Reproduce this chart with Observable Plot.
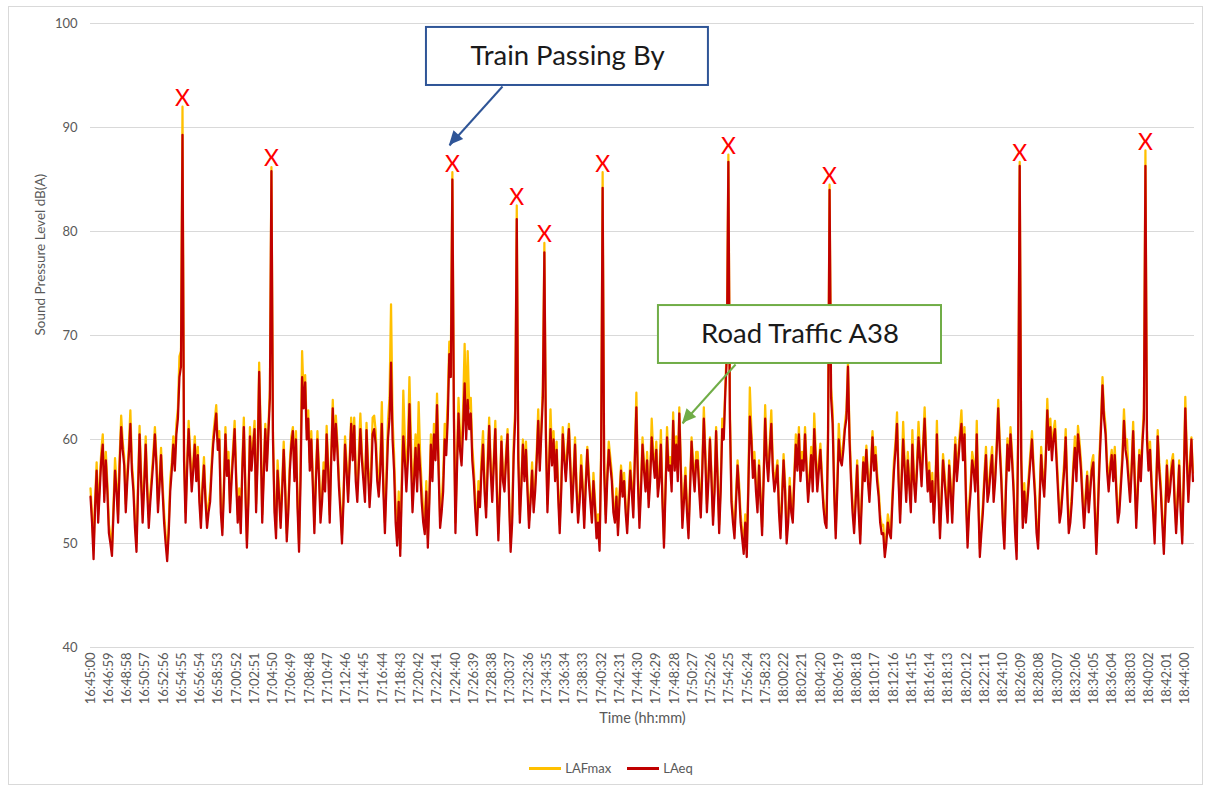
<!DOCTYPE html>
<html><head><meta charset="utf-8">
<script src="https://cdn.jsdelivr.net/npm/d3@7"></script>
<script src="https://cdn.jsdelivr.net/npm/@observablehq/plot@0.6"></script>
<style>
body{margin:0;background:#fff;font-family:Lato,"Liberation Sans",sans-serif;}
#wrap{position:relative;width:1208px;height:789px;overflow:hidden;}
#border{position:absolute;left:8px;top:6px;width:1195px;height:779px;border:1px solid #d9d9d9;box-sizing:border-box;pointer-events:none;}
#legend{display:flex;justify-content:center;align-items:center;height:36px;padding-left:14px;font-size:13px;color:#595959;}
#legend .item{display:flex;align-items:center;margin:0 8px;}
#legend .sw{display:inline-block;width:32px;height:3px;margin-right:4px;}
</style></head><body>
<div id="wrap"><div id="chart"></div><div id="legend"></div><div id="border"></div></div>
<script>
// ---------- data ----------
const seriesNames = ["LAFmax", "LAeq"];
const seriesColors = ["#FFC000", "#C00000"];
const startTime = "16:45:00";
const endTime = "18:45:00";
const stepSeconds = 10;
const yTicks = [40, 50, 60, 70, 80, 90, 100];
const tickLabels = ["16:45:00","16:46:59","16:48:58","16:50:57","16:52:56","16:54:55","16:56:54","16:58:53","17:00:52","17:02:51","17:04:50","17:06:49","17:08:48","17:10:47","17:12:46","17:14:45","17:16:44","17:18:43","17:20:42","17:22:41","17:24:40","17:26:39","17:28:38","17:30:37","17:32:36","17:34:35","17:36:34","17:38:33","17:40:32","17:42:31","17:44:30","17:46:29","17:48:28","17:50:27","17:52:26","17:54:25","17:56:24","17:58:23","18:00:22","18:02:21","18:04:20","18:06:19","18:08:18","18:10:17","18:12:16","18:14:15","18:16:14","18:18:13","18:20:12","18:22:11","18:24:10","18:26:09","18:28:08","18:30:07","18:32:06","18:34:05","18:36:04","18:38:03","18:40:02","18:42:01","18:44:00"];

// 10-second readings, 16:45:00 onwards
const LAeq = [
54.5,52,48.5,53.5,57,52,55,58,59.5,54,58,55,51,50,48.8,53,57,55,52,57.5,61.2,59,57.5,53,56,58.5,61.5,57,55,51.5,49.2,55,60.5,56,52,55.5,59.5,55,51.5,54,56,58,60.5,57.5,53,55.5,58.5,55,52,50,48.3,51,55,57,59.5,57,60.5,62,66,67,89.3,58,52,57,61,58,55,57,59.5,56,58.5,54,51.5,55,57.5,54,51.5,53,54,57,59.5,61,62.5,59,60,53,
50.8,55,60.5,56.5,58,53,56,58.5,61,56,52,54.5,51,57,61.2,55,49.6,54,60.3,57,59,61,53,58,66.5,60,52,56.5,61,57,60.5,64,85.8,60,53,50.5,57,54.5,51.5,55,59,55,50.2,53,57,59.5,60.8,56,60,53.5,49.2,56,66,63,65.5,60,62,57,60,55.5,51,56,60,56.5,52,54,57,55,60.5,57,52,58,63,58,61.5,59,55.5,53,50,54,59.5,57,54,57.5,61.5,58,
61.3,56,54,57.5,61,58,56,54,60.9,57,53.5,56,60.5,61,59.5,56,54.5,57,61.5,55,51,55.5,60,62,67.4,60,57,52,49.8,54,48.8,55,60.3,58,55,58,63.4,58,53,56,59.2,55,59.5,57,54,52,50.9,55,49.6,54,59.5,56,60.5,58,63.3,57,51.5,53,55,60,58.5,62,68.2,66,85,62,51,57,62.5,59,57.5,61,65.4,60,63.8,61,62.5,58,56,53,50.8,55,53.5,57,59.5,55,52.5,57,61.3,57,
54,57.5,61,55,50.3,54.5,59.8,56,55,58,60.5,54,49.2,52,58.5,62,81.2,58,52,55.5,59.5,56,59,55,51.5,54,57,53,55,58,61.8,57,60.5,64,78,60,53,57,61,57.5,60,56,59,54.5,51,55,60.5,58,56,58.5,61,57,53,56,59.5,55,52,54,57.5,55,51.5,55.5,59,56,54,52,56,53.5,50.5,52,49.3,58,84.2,57,52,56,59,57.5,56,53,52,54.5,50.8,54,57,54.5,56,53,
51,54,57,55,52.5,58,63.1,56,51.5,55,59.5,57,55,58,53.5,56,60.2,58,56.3,59,54.5,56,59.5,54,49.6,55,60.2,57,57.5,55,61.8,57,59.5,56,62.5,57,51.5,54,56.5,53,50.5,55,59.8,57,55,58,58,55,52.5,57,62,58,53,56,60,56,51.8,55,60.8,56,51,55,61,60,64.5,68,86.7,62,54,52,50.5,54,57.5,55,52,50.5,49,52,48.7,55,62.2,60,56.3,58,55,53,57.5,54,
50.8,56,62,58,56,59,61.5,57,55,56,57.5,53,50.5,54,58,55,50,52,55.5,53,52,56,59.5,57,60.5,56,58,57,60.5,57,54,56,58.5,55,61,58,55,57,59,56,53.5,52,51.5,60,84,64,61.5,55,50.5,55,60,58,57.5,59,61,62,67,60,56,53,51,54,57.5,53,50,54,57.8,56,59,56,54,57,60.2,57,58.5,56,54.5,52,50.9,51,48.7,50,52,51,50.5,54,57,59,
61.5,56,52,56,60,57,54,58,55.5,53,59.5,56,54,57,60.2,58,55.5,59,62,58,55,57,54,56,52,55,60.5,55,50.5,54,58,56,54,52,57.5,55,52,56,59.5,56,58,60,61.5,58,60.5,54,49.6,53,55,58,57,55,60.5,54,48.7,51,53,56,58.5,54,55,57,58.5,54,56,59,63,59,56,52,49.5,55,59.5,57,60.5,58,55,51,48.5,60,86.3,58,51.5,55,52,54,56,58,
60,57,54.5,51,49.5,54,58.5,56,54.5,58,62.8,59,61.2,58,60,61,58,55,52,53,55,57,60.2,55,51,52,54,57,59.2,56,60.5,59,57,54,51.5,54,56.5,53,55,57,57.8,53,49,53,57.5,61,65.2,62,60.5,57,55,57,58.5,56,58.5,55,52,53,55.5,58,61.8,59,58,56,54,57,60.8,56,51.5,55,58.5,56,59.5,62,86.3,60,57,59,55.5,53,50,55,60.3,57,55,52,49,53,57.5,54,55,57,58,54,51,54,57.5,53,50,56,63,58,54,57,60,56
];
const LAFmax = [
55.3,52.8,49.5,54.3,57.8,52.8,56,58.8,60.5,54.8,58.8,55.8,51.8,50.8,49.5,53.8,58.2,55.8,52.8,58.3,62.3,59.8,58.3,53.8,56.8,59.3,62.8,57.8,55.8,52.3,50,55.8,61.3,56.8,52.8,56.3,60.3,55.8,52.5,54.8,56.8,58.8,61.2,58.3,53.8,56.3,59.2,55.8,53,50.8,49,51.8,56.2,57.8,60.3,57.8,61.5,63,68,68.5,92,59,53,57.8,61.8,58.8,56,57.8,60.3,56.8,59.3,54.8,52.3,55.8,58.3,54.8,52.2,53.8,55,57.8,60.3,61.8,63.3,59.8,60.8,53.8,
51.5,55.8,61.2,57.3,58.8,53.8,56.8,59.3,61.8,56.8,52.8,55.3,51.8,57.8,62.1,55.8,50.3,54.8,61.2,57.8,59.8,61.8,53.8,58.8,67.4,60.8,52.8,57.3,61.5,57.8,61.3,64.8,86.2,60.8,53.8,51.3,58,55.3,52.2,55.8,59.8,55.8,51,53.8,57.8,60.3,61.2,56.8,60.8,54.3,50,57.8,68.5,64,66.2,61,62.8,57.8,60.8,56.3,51.8,56.8,60.8,57.3,52.8,54.8,57.8,55.8,61.3,57.8,52.8,58.8,63.8,58.8,62.3,59.8,56.3,53.8,50.8,54.8,60.3,57.8,54.8,58.3,62.1,58.8,
62.1,56.8,55,58.8,62.5,58.8,57,54.8,61.6,57.8,54.5,57.3,62.1,62.3,60.8,57,55.8,58.3,63.6,56.3,52,56.8,61.8,64,73,62,58.5,53.5,50.8,55,49.5,56.3,64.7,60,56.5,59.5,66,60,54.5,57.3,60.5,56.3,63.6,58.5,55.5,53.2,51.8,56,50.5,55,60.5,57.3,61.5,59.3,64.4,58.3,52.5,54,56.5,61.5,60,64,69.4,68,85.7,63.5,52,58.3,64,60.5,59,63,69.2,62,68.5,63,64,59.3,57.2,54,51.8,56,54.5,58.3,60.8,56,53.5,58.3,62.1,57.8,
55,58.3,61.8,55.8,51,55.3,60.3,56.8,55.8,58.8,61,54.8,50,52.8,59.8,63,82.5,59,52.8,56.3,60,56.8,59.8,55.8,52.2,54.8,57.8,53.8,55.8,58.8,62.9,57.8,61.3,65,78.9,61,53.8,57.8,62.9,58.3,60.8,56.8,59.8,55.3,51.8,55.8,61.2,58.8,56.8,59.3,61.5,57.8,53.8,56.8,60.2,55.8,52.8,54.8,58.5,55.8,52.3,56.3,59.3,56.8,54.8,52.8,56.8,54.3,51.2,52.8,50,59,85.7,58,52.8,56.8,59.8,58.3,56.8,53.8,52.8,55.3,51.5,54.8,57.5,55.3,56.8,53.8,
51.8,54.8,57.8,55.8,53.3,58.8,64.5,56.8,52.3,55.8,60.2,57.8,55.8,58.8,54.3,56.8,62,58.8,57.2,59.8,55.3,56.8,60.9,54.8,50.4,55.8,61.2,57.8,58.3,55.8,62.6,57.8,60.3,56.8,63.1,57.8,52.3,54.8,57.3,53.8,51.3,55.8,60.2,57.8,55.8,58.8,58.8,55.8,53.3,57.8,63.1,58.8,53.8,56.8,60.2,56.8,52.6,55.8,61.2,56.8,51.8,55.8,62,61,65,69,87.4,63,54.8,52.8,51.3,54.8,58,55.8,52.8,51.3,49.8,52.8,49.4,56,65,61,57.1,58.8,55.8,53.8,58,54.8,
51.6,56.8,63.3,58.8,56.8,59.8,62.8,57.8,55.8,56.8,58,53.8,51.3,54.8,58.6,55.8,50.8,52.8,56.3,53.8,52.8,56.8,60.5,57.8,61.2,56.8,58.8,57.8,61.2,57.8,54.8,56.8,59.3,55.8,62.5,58.8,55.8,57.8,59.6,56.8,54.3,52.8,52.3,61,84.5,65,62.8,55.8,51.3,55.8,61.5,58.8,58.3,59.8,61.5,62.8,67.5,60.8,56.8,53.8,51.8,54.8,58,53.8,50.8,54.8,58.3,56.8,59.4,56.8,54.8,57.8,60.8,57.8,59.3,56.8,55.3,52.8,51.7,51.8,49.5,50.8,52.8,51.8,51.3,54.8,58,59.8,
62.6,56.8,52.8,56.8,61.7,57.8,54.8,58.8,56.3,53.8,60.9,56.8,54.8,57.8,61.7,58.8,56.3,59.8,63.1,58.8,55.8,57.8,54.8,56.8,52.8,55.8,61.8,55.8,51.3,54.8,58.6,56.8,54.8,52.8,58,55.8,52.8,56.8,60.2,56.8,58.8,60.8,62.8,58.8,61.2,54.8,50.4,53.8,55.8,58.8,57.8,55.8,61.8,54.8,49.5,51.8,53.8,56.8,59.3,54.8,55.8,57.8,59.3,54.8,56.8,59.8,63.8,59.8,56.8,52.8,50.3,55.8,60.1,57.8,61.2,58.8,55.8,51.8,49.3,61,86.7,59,52.3,55.8,52.8,54.8,56.8,58.8,
60.8,57.8,55.3,51.8,50.3,54.8,59.3,56.8,55.3,58.8,63.9,59.8,62,58.8,60.8,61.8,58.8,55.8,52.8,53.8,55.8,57.8,61,55.8,51.8,52.8,54.8,57.8,60.3,56.8,61.3,59.8,57.8,54.8,52.3,54.8,56.9,53.8,55.8,57.8,58.5,53.8,49.8,53.8,58.5,61.8,66,62.8,61.3,57.8,55.8,57.8,59,56.8,59.3,55.8,52.8,53.8,56.3,58.8,62.9,59.8,60,56.8,54.8,57.8,61.7,56.8,52.3,55.8,59,56.8,60.2,63,87.8,61,57.8,59.8,56.3,53.8,50.8,55.8,60.9,57.8,55.8,52.8,49.8,53.8,58,54.8,55.8,57.8,58.6,54.8,51.8,54.8,58,53.8,50.8,56.8,64.1,58.8,54.8,57.8,60.2,56.8
];

// annotations: time offset (s from start) and dB
const boxLabels = ["Train Passing By", "Road Traffic A38"];
const boxColors = ["#2F5597", "#70AD47"];
const boxT1 = [2191, 3704], boxT2 = [4030, 5550];
const boxDb1 = [94.04, 67.31], boxDb2 = [99.62, 72.88];
const boxTextT = [3111, 4627], boxTextDb = [96.85, 70.1];
const arrowT1 = [2687, 4207], arrowDb1 = [93.94, 67.21];
const arrowT2 = [2341, 3861], arrowDb2 = [88.27, 61.54];

// ---------- build ----------
const toSec = s => { const [h, m, ss] = s.split(":").map(Number); return h * 3600 + m * 60 + ss; };
const t0 = toSec(startTime);
const n = Math.min(LAeq.length, LAFmax.length);
const data = LAeq.slice(0, n).map((v, i) => ({t: t0 + i * stepSeconds, LAeq: v, LAFmax: LAFmax[i]}));
const tickSecs = tickLabels.map(toSec);
const tickMap = new Map(tickLabels.map(s => [toSec(s), s]));
const boxes = boxLabels.map((label, i) => ({label, color: boxColors[i], x1: t0 + boxT1[i], x2: t0 + boxT2[i], y1: boxDb1[i], y2: boxDb2[i], tx: t0 + boxTextT[i], ty: boxTextDb[i]}));
const arrows = boxLabels.map((label, i) => ({color: boxColors[i], x1: t0 + arrowT1[i], y1: arrowDb1[i], x2: t0 + arrowT2[i], y2: arrowDb2[i]}));
const peaks = data.filter(d => d.LAFmax > 75);

const font = "Lato, 'Liberation Sans', sans-serif";
const marks = [
  Plot.gridY(yTicks, {stroke: "#d9d9d9", strokeOpacity: 1, strokeWidth: 1}),
  Plot.axisY(yTicks, {tickSize: 0, tickPadding: 13, label: null, fill: "#595959", fontSize: 13}),
  Plot.axisX(tickSecs, {tickSize: 0, tickPadding: 5, tickRotate: -90, label: null, fill: "#595959", fontSize: 13, tickFormat: d => tickMap.get(d)}),
  Plot.line(data, {x: "t", y: "LAFmax", stroke: seriesColors[0], strokeWidth: 2.25}),
  Plot.line(data, {x: "t", y: "LAeq", stroke: seriesColors[1], strokeWidth: 2.25}),
  Plot.text(peaks, {x: "t", y: "LAFmax", text: () => "X", fill: "#FF0000", fontSize: 23, dy: -8}),
  Plot.text(["Sound Pressure Level dB(A)"], {text: d => d, frameAnchor: "left", dx: -50, rotate: -90, fill: "#595959", fontSize: 13.5}),
  Plot.text(["Time (hh:mm)"], {text: d => d, frameAnchor: "bottom", dy: 75, fill: "#595959", fontSize: 14.5})
];
boxes.forEach(b => {
  marks.push(Plot.rect([b], {x1: "x1", x2: "x2", y1: "y1", y2: "y2", fill: "white", stroke: b.color, strokeWidth: 2}));
  marks.push(Plot.text([b], {x: "tx", y: "ty", text: "label", fill: "#1a1a1a", fontSize: 27.5}));
});
arrows.forEach(a => {
  marks.push(Plot.link([a], {x1: "x1", y1: "y1", x2: "x2", y2: "y2", stroke: a.color, strokeWidth: 2}));
});

const plot = Plot.plot({
  width: 1208, height: 750,
  marginLeft: 90, marginRight: 14, marginTop: 23, marginBottom: 103,
  style: {fontFamily: font, background: "transparent", color: "#595959"},
  x: {domain: [t0, toSec(endTime)]},
  y: {domain: [40, 100]},
  marks
});

// filled arrow heads through the plot's scales
const sx = plot.scale("x"), sy = plot.scale("y");
const svg = d3.select(plot);
arrows.forEach(a => {
  const xa = sx.apply(a.x1), ya = sy.apply(a.y1), xb = sx.apply(a.x2), yb = sy.apply(a.y2);
  const dx = xb - xa, dy = yb - ya, len = Math.hypot(dx, dy);
  const ux = dx / len, uy = dy / len, nx = -uy, ny = ux;
  const L = 14, W = 6.5;
  const bx = xb - ux * L, by = yb - uy * L;
  svg.append("path")
    .attr("d", `M${xb},${yb}L${bx + nx * W},${by + ny * W}L${bx - nx * W},${by - ny * W}Z`)
    .attr("fill", a.color);
});

document.getElementById("chart").appendChild(plot);

const legend = document.getElementById("legend");
seriesNames.forEach((name, i) => {
  const item = document.createElement("span");
  item.className = "item";
  item.innerHTML = `<span class="sw" style="background:${seriesColors[i]}"></span><span>${name}</span>`;
  legend.appendChild(item);
});
</script>
</body></html>
